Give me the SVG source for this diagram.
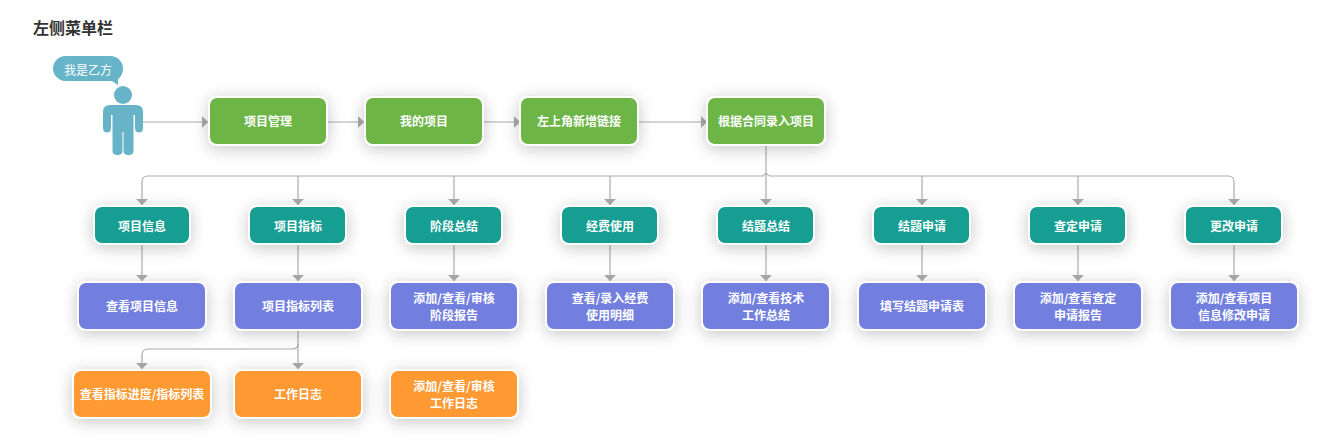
<svg xmlns="http://www.w3.org/2000/svg" width="1340" height="440" viewBox="0 0 1340 440">
<style>
text{font-family:"Noto Sans CJK SC","Liberation Sans",sans-serif;font-size:12px;font-weight:700;fill:#fff;text-anchor:middle}
.t{font-size:16px;fill:#333;text-anchor:start}
.n{font-weight:400}
.b{stroke:#fff;stroke-width:2;filter:url(#s)}
.g{fill:#6db546}.c{fill:#189e92}.p{fill:#727fdf}.o{fill:#ff9933}
.l{fill:none;stroke:#ababab;stroke-width:1.2;marker-end:url(#a)}
.u{fill:#67b3c8}
</style>
<defs>
<filter id="s" x="-40%" y="-60%" width="180%" height="240%"><feDropShadow dx="0" dy="3" stdDeviation="8" flood-color="#000" flood-opacity="0.22"/></filter>
<marker id="a" markerUnits="userSpaceOnUse" markerWidth="8" markerHeight="14" refX="6" refY="6" orient="auto"><path d="M0 0L6 6L0 12Z" fill="#ababab"/></marker>
</defs>
<rect width="1340" height="440" fill="#fff"/>
<text class="t" x="33" y="34">左侧菜单栏</text>
<g id="connectors">
<path class="l" d="M143 122H208"/><path class="l" d="M328 122H364"/><path class="l" d="M484 122H520"/><path class="l" d="M639 122H707"/>
<path class="l" d="M766 146V205"/>
<path class="l" d="M763 176H148Q142 176 142 182V205"/>
<path class="l" d="M298 176V205"/>
<path class="l" d="M454 176V205"/><path class="l" d="M610 176V205"/>
<path class="l" d="M762 176Q763.500 176 764.500 174.500Q766 172.500 767.500 174.500Q768.500 176 770 176H1228Q1234 176 1234 182V205"/>
<path class="l" d="M922 176V205"/><path class="l" d="M1078 176V205"/>
<path class="l" d="M142 245V281"/><path class="l" d="M298 245V281"/><path class="l" d="M454 245V281"/><path class="l" d="M610 245V281"/><path class="l" d="M766 245V281"/><path class="l" d="M922 245V281"/><path class="l" d="M1078 245V281"/><path class="l" d="M1234 245V281"/>
<path class="l" d="M298 331V369"/>
<path class="l" d="M298 344Q298 349 292 349H148Q142 349 142 355V369"/>
</g>
<g id="person"><path class="u" d="M53 68.500A12.500 12.500 0 0 1 65.500 56H110.500A12.500 12.500 0 0 1 123 68.500C123 73 121 77 118 79V85L112 81H65.500A12.500 12.500 0 0 1 53 68.500Z"/><text class="n" x="88" y="75">我是乙方</text>
<circle class="u" cx="123" cy="95" r="9"/><path class="u" d="M110 105H136Q143 105 143 112V128Q143 132.500 139 132.500Q135 132.500 135 128V115H133.500V151Q133.500 155 128.500 155Q123.500 155 123.500 151V132H122.500V151Q122.500 155 117.500 155Q112.500 155 112.500 151V115H111V128Q111 132.500 107 132.500Q103 132.500 103 128V112Q103 105 110 105Z"/></g>
<g id="n1"><rect class="b g" x="209" y="97" width="118" height="48" rx="8"/><text x="268" y="126">项目管理</text></g>
<g id="n2"><rect class="b g" x="365" y="97" width="118" height="48" rx="8"/><text x="424" y="126">我的项目</text></g>
<g id="n3"><rect class="b g" x="520" y="97" width="118" height="48" rx="8"/><text x="579" y="126">左上角新增链接</text></g>
<g id="n4"><rect class="b g" x="707" y="97" width="118" height="48" rx="8"/><text x="766" y="126">根据合同录入项目</text></g>
<g id="t1"><rect class="b c" x="94" y="206" width="96" height="38" rx="8"/><text x="142" y="231">项目信息</text></g>
<g id="t2"><rect class="b c" x="249" y="206" width="97" height="38" rx="8"/><text x="298" y="231">项目指标</text></g>
<g id="t3"><rect class="b c" x="405" y="206" width="97" height="38" rx="8"/><text x="454" y="231">阶段总结</text></g>
<g id="t4"><rect class="b c" x="561" y="206" width="97" height="38" rx="8"/><text x="610" y="231">经费使用</text></g>
<g id="t5"><rect class="b c" x="717" y="206" width="97" height="38" rx="8"/><text x="766" y="231">结题总结</text></g>
<g id="t6"><rect class="b c" x="873" y="206" width="97" height="38" rx="8"/><text x="922" y="231">结题申请</text></g>
<g id="t7"><rect class="b c" x="1029" y="206" width="97" height="38" rx="8"/><text x="1078" y="231">查定申请</text></g>
<g id="t8"><rect class="b c" x="1185" y="206" width="97" height="38" rx="8"/><text x="1234" y="231">更改申请</text></g>
<g id="p1"><rect class="b p" x="78" y="282" width="128" height="48" rx="8"/><text x="142" y="311">查看项目信息</text></g>
<g id="p2"><rect class="b p" x="234" y="282" width="128" height="48" rx="8"/><text x="298" y="311">项目指标列表</text></g>
<g id="p3"><rect class="b p" x="390" y="282" width="128" height="48" rx="8"/><text x="454" y="303">添加/查看/审核</text><text x="454" y="320">阶段报告</text></g>
<g id="p4"><rect class="b p" x="546" y="282" width="128" height="48" rx="8"/><text x="610" y="303">查看/录入经费</text><text x="610" y="320">使用明细</text></g>
<g id="p5"><rect class="b p" x="702" y="282" width="128" height="48" rx="8"/><text x="766" y="303">添加/查看技术</text><text x="766" y="320">工作总结</text></g>
<g id="p6"><rect class="b p" x="858" y="282" width="128" height="48" rx="8"/><text x="922" y="311">填写结题申请表</text></g>
<g id="p7"><rect class="b p" x="1014" y="282" width="128" height="48" rx="8"/><text x="1078" y="303">添加/查看查定</text><text x="1078" y="320">申请报告</text></g>
<g id="p8"><rect class="b p" x="1170" y="282" width="128" height="48" rx="8"/><text x="1234" y="303">添加/查看项目</text><text x="1234" y="320">信息修改申请</text></g>
<g id="o1"><rect class="b o" x="73" y="370" width="138" height="48" rx="8"/><text x="142" y="399">查看指标进度/指标列表</text></g>
<g id="o2"><rect class="b o" x="234" y="370" width="128" height="48" rx="8"/><text x="298" y="399">工作日志</text></g>
<g id="o3"><rect class="b o" x="390" y="370" width="128" height="48" rx="8"/><text x="454" y="391">添加/查看/审核</text><text x="454" y="408">工作日志</text></g>
</svg>
